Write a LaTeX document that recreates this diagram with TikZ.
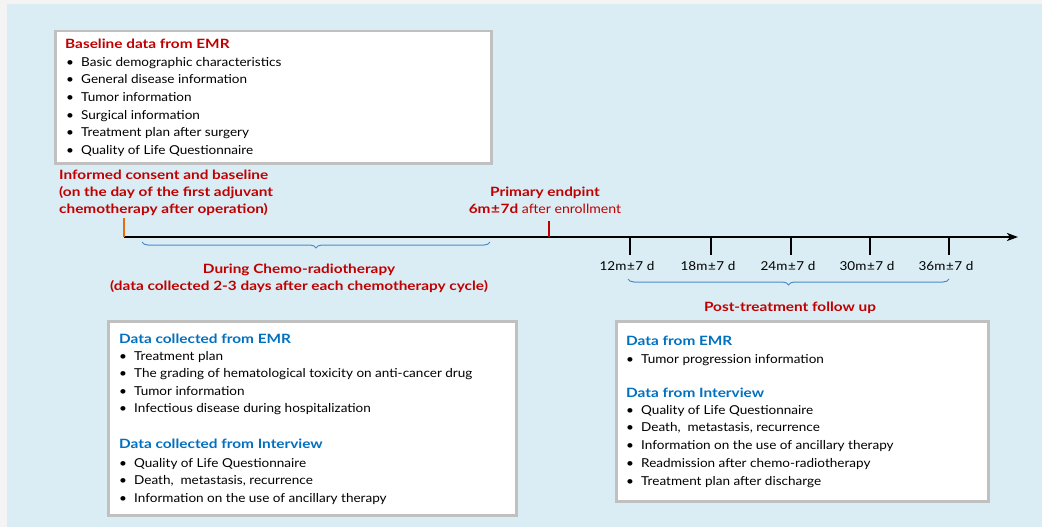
\documentclass[tikz,border=0pt]{standalone}
\usepackage{fontspec}
\setmainfont{Lato}[FakeStretch=1.1]
\newfontfamily\bfam{Lato}[FakeStretch=1.2]
\usetikzlibrary{decorations.pathreplacing,arrows.meta}
\definecolor{bgblue}{HTML}{DBEDF4}
\definecolor{outer}{HTML}{F4F4F4}
\definecolor{dred}{HTML}{C00000}
\definecolor{tblue}{HTML}{0070C0}
\definecolor{brblue}{HTML}{4F88C8}
\definecolor{boxgray}{HTML}{C0C0C0}
\definecolor{torange}{HTML}{E46C0A}
\newcommand{\bul}{\makebox[15pt][l]{\textbullet}}
\newcommand{\pmw}{\hspace{0.6pt}±\hspace{0.6pt}}
\tikzset{
  box/.style={draw=boxgray, line width=2.5pt, fill=white, anchor=north west, inner sep=0pt},
  body/.style={anchor=base west, inner sep=0pt, font=\fontsize{12.3}{14}\selectfont, text=black},
  rtitle/.style={anchor=base west, inner sep=0pt, font=\fontsize{12.8}{14}\selectfont\bfam\bfseries, text=dred},
  btitle/.style={anchor=base west, inner sep=0pt, font=\fontsize{12.8}{14}\selectfont\bfam\bfseries, text=tblue},
  rcenter/.style={anchor=base, inner sep=0pt, font=\fontsize{12.8}{14}\selectfont\bfam\bfseries, text=dred},
  ticklab/.style={anchor=base, inner sep=0pt, font=\fontsize{12.3}{14}\selectfont, text=black},
  tickline/.style={line width=2.5pt},
  bracestyle/.style={draw=brblue, line width=1pt, decorate, decoration={brace, amplitude=6pt}},
}
\begin{document}
\begin{tikzpicture}[x=1pt,y=-1pt]
\useasboundingbox (0,0) rectangle (1042,527);
\fill[outer] (0,0) rectangle (1042,527);
\fill[bgblue] (7,4) rectangle (1042,527);

% top box
\node[box, minimum width=436pt, minimum height=132pt] (b1) at (54,30) {};
\node[rtitle] (b1t) at (65,49) {Baseline data from EMR};
\foreach \t [count=\i from 0] in {Basic demographic characteristics, General disease information, Tumor information, Surgical information, Treatment plan after surgery, Quality of Life Questionnaire}
  \node[body] (b1l\i) at (66,66.5+17.5*\i) {\bul\t};

% consent text
\node[rtitle] (ic1) at (59,179) {Informed consent and baseline};
\node[rtitle] (ic2) at (59,196) {(on the day of the first adjuvant};
\node[rtitle] (ic3) at (59,213.5) {chemotherapy after operation)};

% timeline
\coordinate (t0) at (124,237);
\coordinate (tend) at (1018,237);
\draw[line width=2.5pt, -{Stealth[length=11pt, width=8pt, inset=3pt]}] (t0) -- (tend);
\coordinate (o1) at (124,218);
\draw[torange, line width=2.5pt] (o1) -- (t0);
\coordinate (p0) at (549,237);
\coordinate (p1) at (549,221);
\draw[dred, line width=2.5pt] (p1) -- (p0);

% primary endpoint
\node[rcenter] (pe1) at (545,196) {Primary endpint};
\node[anchor=base, inner sep=0pt, text=dred, font=\fontsize{12.8}{14}\selectfont] (pe2) at (545,213) {{\bfam\bfseries 6m\pmw 7d} after enrollment};

% during chemo brace
\coordinate (c1) at (142,242);
\coordinate (c2) at (490,242);
\draw[bracestyle, decoration={mirror}] (c1) -- (c2);
\node[rcenter] (dc1) at (299,273) {During Chemo-radiotherapy};
\node[rcenter] (dc2) at (299,290) {(data collected 2-3 days after each chemotherapy cycle)};

% follow-up ticks
\foreach \x/\lab [count=\i] in {630/12, 711/18, 791/24, 870/30, 949/36} {
  \coordinate (ft\i) at (\x,237);
  \coordinate (fb\i) at (\x,255);
  \draw[tickline] (ft\i) -- (fb\i);
  \node[ticklab] (fl\i) at (\x-3,270) {\lab m\pmw 7 d};
}

% follow-up brace
\coordinate (f1) at (628,279);
\coordinate (f2) at (949,279);
\draw[bracestyle, decoration={mirror}] (f1) -- (f2);
\node[rcenter] (pt) at (790,311) {Post-treatment follow up};

% bottom-left box
\node[box, minimum width=408pt, minimum height=194pt] (b2) at (107,320) {};
\node[btitle] (b2t1) at (119,343) {Data collected from EMR};
\foreach \t [count=\i from 0] in {Treatment plan, The grading of hematological toxicity on anti-cancer drug, Tumor information, Infectious disease during hospitalization}
  \node[body] (b2l\i) at (119,360+17.6*\i) {\bul\t};
\node[btitle] (b2t2) at (119,448) {Data collected from Interview};
\foreach \t [count=\i from 0] in {Quality of Life Questionnaire, {Death,\ \ metastasis, recurrence}, Information on the use of ancillary therapy}
  \node[body] (b2m\i) at (119,467+17.5*\i) {\bul\t};

% bottom-right box
\node[box, minimum width=372pt, minimum height=180pt] (b3) at (615,320) {};
\node[btitle] (b3t1) at (626,345) {Data from EMR};
\node[body] (b3l0) at (626,363) {\bul Tumor progression information};
\node[btitle] (b3t2) at (626,397) {Data from Interview};
\foreach \t [count=\i from 0] in {Quality of Life Questionnaire, {Death,\ \ metastasis, recurrence}, Information on the use of ancillary therapy, Readmission after chemo-radiotherapy, Treatment plan after discharge}
  \node[body] (b3m\i) at (626,414+17.9*\i) {\bul\t};
\end{tikzpicture}
\end{document}
